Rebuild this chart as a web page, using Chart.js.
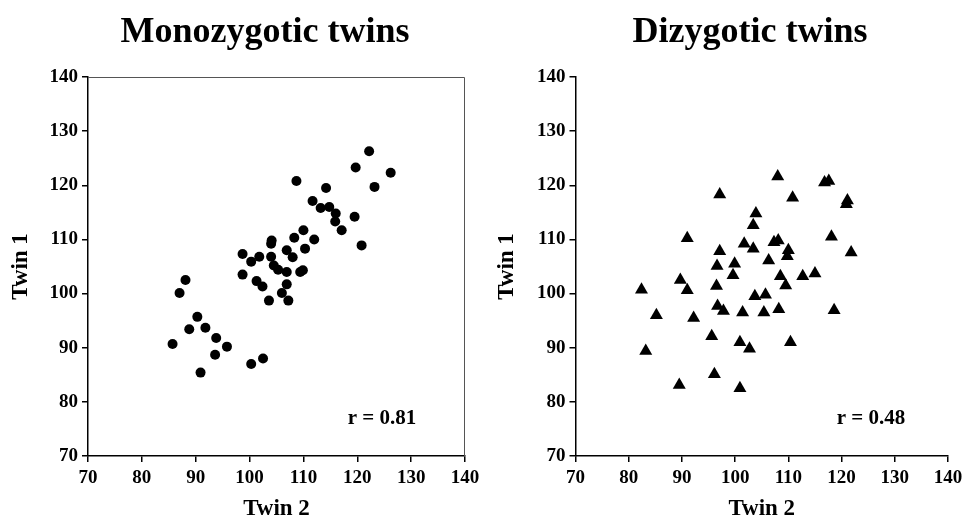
<!DOCTYPE html>
<html>
<head>
<meta charset="utf-8">
<script src="https://cdn.jsdelivr.net/npm/chart.js@4/dist/chart.umd.min.js"></script>
<style>
  body { margin: 0; background: #fff; }
  #wrap { position: relative; width: 963px; height: 521px; overflow: hidden; }
  canvas { position: absolute; top: 0; }
</style>
</head>
<body>
<div id="wrap">
  <canvas id="mz" width="485" height="521" style="left:0"></canvas>
  <canvas id="dz" width="486" height="521" style="left:482px"></canvas>
</div>
<script>
// axis ticks (both axes, both panels)
const tickValues = [70, 80, 90, 100, 110, 120, 130, 140];

// monozygotic pairs: x = twin 2, y = twin 1
const mzTwin2 = [85.7, 87.0, 88.1, 90.3, 88.8, 91.8, 93.8, 95.8, 93.6, 90.9,
  100.3, 102.5, 98.7, 101.3, 102.4, 103.6, 106.0, 107.2, 106.9, 104.5,
  105.3, 106.9, 109.4, 109.9, 98.7, 100.3, 101.8, 104.0, 104.1, 104.0,
  106.9, 108.0, 110.3, 108.3, 112.0, 110.0, 117.1, 120.8, 115.9, 119.5,
  116.0, 114.8, 113.2, 111.7, 114.2, 108.7, 123.2, 119.7, 122.2, 126.2];
const mzTwin1 = [90.7, 100.1, 102.5, 95.7, 93.4, 93.7, 91.8, 90.2, 88.7, 85.4,
  87.0, 88.0, 103.5, 102.3, 101.3, 98.7, 100.1, 98.7, 101.7, 105.2,
  104.4, 104.0, 104.0, 104.3, 107.3, 105.9, 106.8, 106.8, 109.8, 109.2,
  108.0, 106.7, 108.3, 110.3, 110.0, 111.7, 111.7, 108.9, 113.3, 114.2,
  114.8, 116.0, 115.8, 117.1, 119.5, 120.8, 119.7, 123.3, 126.3, 122.3];

// dizygotic pairs
const dzTwin2 = [82.4, 85.2, 83.2, 89.5, 89.7, 91.0, 91.0, 92.2, 95.6, 96.1,
  96.5, 96.6, 97.1, 97.1, 96.7, 97.8, 99.6, 99.9, 100.9, 100.9,
  101.4, 101.7, 102.7, 103.4, 103.4, 103.9, 103.7, 105.7, 105.4, 106.3,
  107.3, 108.1, 108.0, 108.2, 108.5, 109.5, 110.0, 109.8, 110.4, 110.8,
  112.7, 115.0, 116.8, 117.6, 118.1, 118.6, 121.1, 120.9, 121.8];
const dzTwin1 = [100.7, 96.0, 89.4, 83.1, 102.5, 110.2, 100.6, 95.5, 92.1, 85.1,
  101.4, 105.1, 107.8, 118.3, 97.7, 96.8, 103.4, 105.5, 91.0, 82.5,
  96.5, 109.2, 89.8, 108.3, 112.6, 114.8, 99.5, 99.8, 96.5, 106.1,
  109.5, 109.8, 121.6, 97.1, 103.2, 101.5, 108.0, 106.9, 91.0, 117.7,
  103.2, 103.7, 120.5, 120.8, 110.5, 96.9, 117.2, 116.5, 107.6];

const titles = ['Monozygotic twins', 'Dizygotic twins'];
const rValues = ['r = 0.81', 'r = 0.48'];

const serif = '"Liberation Serif", "Times New Roman", serif';

function toPoints(xs, ys) {
  return xs.map((x, i) => ({ x: x, y: ys[i] }));
}

// draws panel title, the r text and (optionally) the frame
const panelText = {
  id: 'panelText',
  afterDraw(chart, args, opts) {
    const ctx = chart.ctx;
    const area = chart.chartArea;
    ctx.save();
    if (opts.frame) {
      ctx.strokeStyle = '#555';
      ctx.lineWidth = 1;
      ctx.beginPath();
      ctx.moveTo(area.left, area.top + 0.5);
      ctx.lineTo(area.right - 0.5, area.top + 0.5);
      ctx.lineTo(area.right - 0.5, area.bottom);
      ctx.stroke();
    }
    ctx.fillStyle = '#000';
    ctx.textAlign = 'center';
    ctx.textBaseline = 'alphabetic';
    ctx.font = 'bold 36px ' + serif;
    ctx.fillText(opts.title, opts.titleX, 42);
    ctx.font = 'bold 21px ' + serif;
    ctx.fillText(opts.rText, opts.rX, 424);
    ctx.restore();
  }
};

function makeChart(id, data, style, radius, o) {
  const axis = (title, isY) => ({
    type: 'linear',
    min: 70,
    max: 140,
    afterBuildTicks: s => { s.ticks = tickValues.map(v => ({ value: v })); },
    afterFit: s => {
      if (isY) s.width = o.yWidth; else s.height = 65;
    },
    border: { color: '#000', width: 1.5 },
    grid: { drawOnChartArea: false, color: '#000', lineWidth: 1.5, tickLength: 6 },
    ticks: {
      color: '#000',
      padding: isY ? 4 : 5,
      font: { family: serif, size: 19, weight: 'bold' }
    },
    title: {
      display: true,
      text: title,
      color: '#000',
      font: { family: serif, size: 23, weight: 'bold', lineHeight: 1 },
      padding: isY ? { top: o.yTitlePad, bottom: 0 } : { top: 0, bottom: 0 }
    }
  });

  return new Chart(document.getElementById(id), {
    type: 'scatter',
    data: {
      datasets: [{
        data: data,
        pointStyle: style,
        pointRadius: radius,
        backgroundColor: '#000',
        borderColor: '#000',
        borderWidth: 0
      }]
    },
    options: {
      responsive: false,
      animation: false,
      devicePixelRatio: 1,
      layout: { padding: { top: 77, right: o.rightPad, left: 0, bottom: 0 } },
      scales: {
        x: axis('Twin 2', false),
        y: axis('Twin 1', true)
      },
      plugins: {
        legend: { display: false },
        tooltip: { enabled: false },
        panelText: { title: o.title, titleX: o.titleX, rText: o.rText, rX: o.rX, frame: o.frame }
      }
    },
    plugins: [panelText]
  });
}

makeChart('mz', toPoints(mzTwin2, mzTwin1), 'circle', 5, {
  yWidth: 88, rightPad: 20, yTitlePad: 10,
  title: titles[0], titleX: 265, rText: rValues[0], rX: 382, frame: true
});

makeChart('dz', toPoints(dzTwin2, dzTwin1), 'triangle', 7.5, {
  yWidth: 93.5, rightPad: 20, yTitlePad: 14,
  title: titles[1], titleX: 268, rText: rValues[1], rX: 389, frame: false
});
</script>
</body>
</html>
